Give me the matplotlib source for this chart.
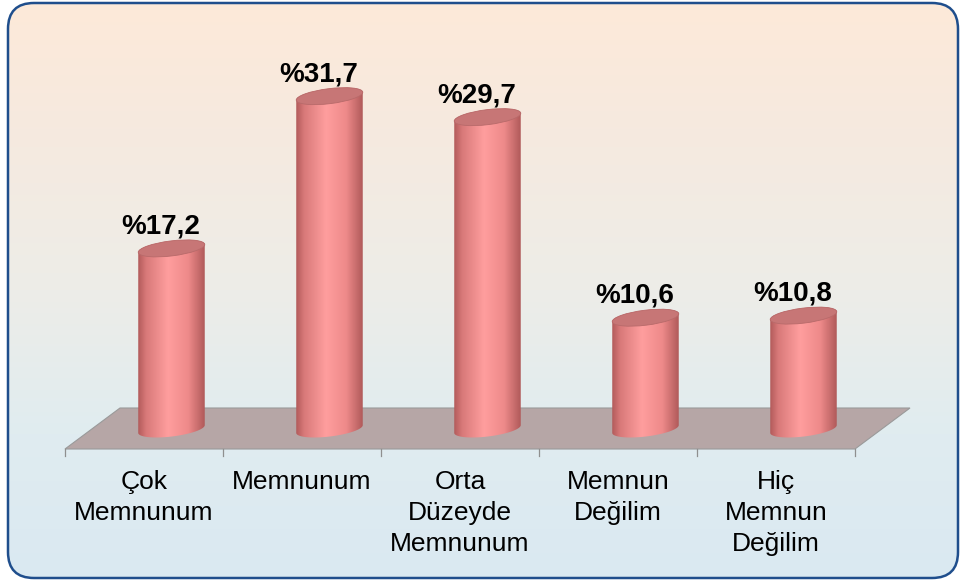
import numpy as np
import matplotlib.pyplot as plt
from matplotlib.patches import FancyBboxPatch, Polygon, Ellipse
from matplotlib.colors import LinearSegmentedColormap

# ==========================
# DATA
# ==========================
categories = ["Çok\nMemnunum", "Memnunum", "Orta\nDüzeyde\nMemnunum",
              "Memnun\nDeğilim", "Hiç\nMemnun\nDeğilim"]
values = [17.2, 31.7, 29.7, 10.6, 10.8]
value_labels = ["%17,2", "%31,7", "%29,7", "%10,6", "%10,8"]

plt.rcParams["font.family"] = ["Liberation Sans", "DejaVu Sans"]

# ==========================
# GEOMETRY (pixels)
# ==========================
W, H = 960, 581
front_y, back_y = 449, 408
front_x0, front_x1 = 65, 855
depth_dx = 55
step = (front_x1 - front_x0) / len(categories)
base_y = 429           # cylinder base centre (mid depth)
px_per_pct = 10.5
radius = 33.5
ell_h = 7.5
tilt = 7

fig = plt.figure(figsize=(W / 100, H / 100), dpi=100)
ax = fig.add_axes([0, 0, 1, 1])
ax.set_xlim(0, W)
ax.set_ylim(H, 0)
ax.axis("off")

# background gradient inside rounded frame
bg = LinearSegmentedColormap.from_list(
    "bg", ["#FDE9D9", "#F5EAE0", "#EDEDE8", "#E0ECF0", "#DAE9F2"])
grad = np.linspace(0, 1, 256).reshape(-1, 1)
frame = FancyBboxPatch((8, 3), 950, 575,
                       boxstyle="round,pad=0,rounding_size=26",
                       facecolor="none", edgecolor="#1F4E8C", linewidth=1.8,
                       zorder=10)
ax.add_patch(frame)
img = ax.imshow(grad, cmap=bg, extent=[8, 958, 578, 3], aspect="auto", zorder=0)
img.set_clip_path(frame)

# floor
floor = Polygon([(front_x0, front_y), (front_x1, front_y),
                 (front_x1 + depth_dx, back_y), (front_x0 + depth_dx, back_y)],
                closed=True, facecolor="#B6A6A6", edgecolor="#9A9A9A",
                linewidth=0.8, zorder=1)
ax.add_patch(floor)
for i in range(len(categories) + 1):
    x = front_x0 + i * step
    ax.plot([x, x], [front_y, front_y + 7], color="#8F8F8F", lw=0.9, zorder=1)

# cylinder colours
side = LinearSegmentedColormap.from_list(
    "side", [(0, "#B25A5A"), (0.12, "#D87979"), (0.45, "#FF9E9E"),
             (0.75, "#EE8A8A"), (1, "#B05A5A")])
hgrad = np.linspace(0, 1, 256).reshape(1, -1)


def ellipse_pts(cx, cy, t):
    a = np.radians(tilt)
    ex = radius * np.cos(t)
    ey = ell_h * np.sin(t)
    return cx + ex * np.cos(a) + ey * np.sin(a), cy - ex * np.sin(a) + ey * np.cos(a)


for i, (val, lab) in enumerate(zip(values, value_labels)):
    cx = front_x0 + (i + 0.5) * step + depth_dx / 2
    top_y = base_y - val * px_per_pct

    # body: lower half of bottom ellipse + upper half of top ellipse
    bx, by = ellipse_pts(cx, base_y, np.linspace(np.pi, 0, 60))
    tx, ty = ellipse_pts(cx, top_y, np.linspace(0, -np.pi, 60))
    verts = np.column_stack([np.r_[bx, tx], np.r_[by, ty]])
    body = Polygon(verts, closed=True, facecolor="none", edgecolor="none", zorder=2)
    ax.add_patch(body)
    im = ax.imshow(hgrad, cmap=side, extent=[cx - radius, cx + radius, base_y + 12, top_y - 12],
                   aspect="auto", zorder=2)
    im.set_clip_path(body)

    # y axis is inverted, so negative angle lifts the right side
    top = Ellipse((cx, top_y), 2 * radius, 2 * ell_h, angle=-tilt,
                  facecolor="#C77676", edgecolor="#B86A6A", linewidth=0.6, zorder=3)
    ax.add_patch(top)

    ax.text(cx - 11, top_y - 9, lab, ha="center", va="bottom",
            fontsize=20, fontweight="bold", color="black", zorder=4)

# category labels
for i, cat in enumerate(categories):
    x = front_x0 + (i + 0.5) * step
    ax.text(x, 470, cat, ha="center", va="top", fontsize=19,
            linespacing=1.36, color="black", zorder=4)

fig.savefig("out.png", dpi=100)
